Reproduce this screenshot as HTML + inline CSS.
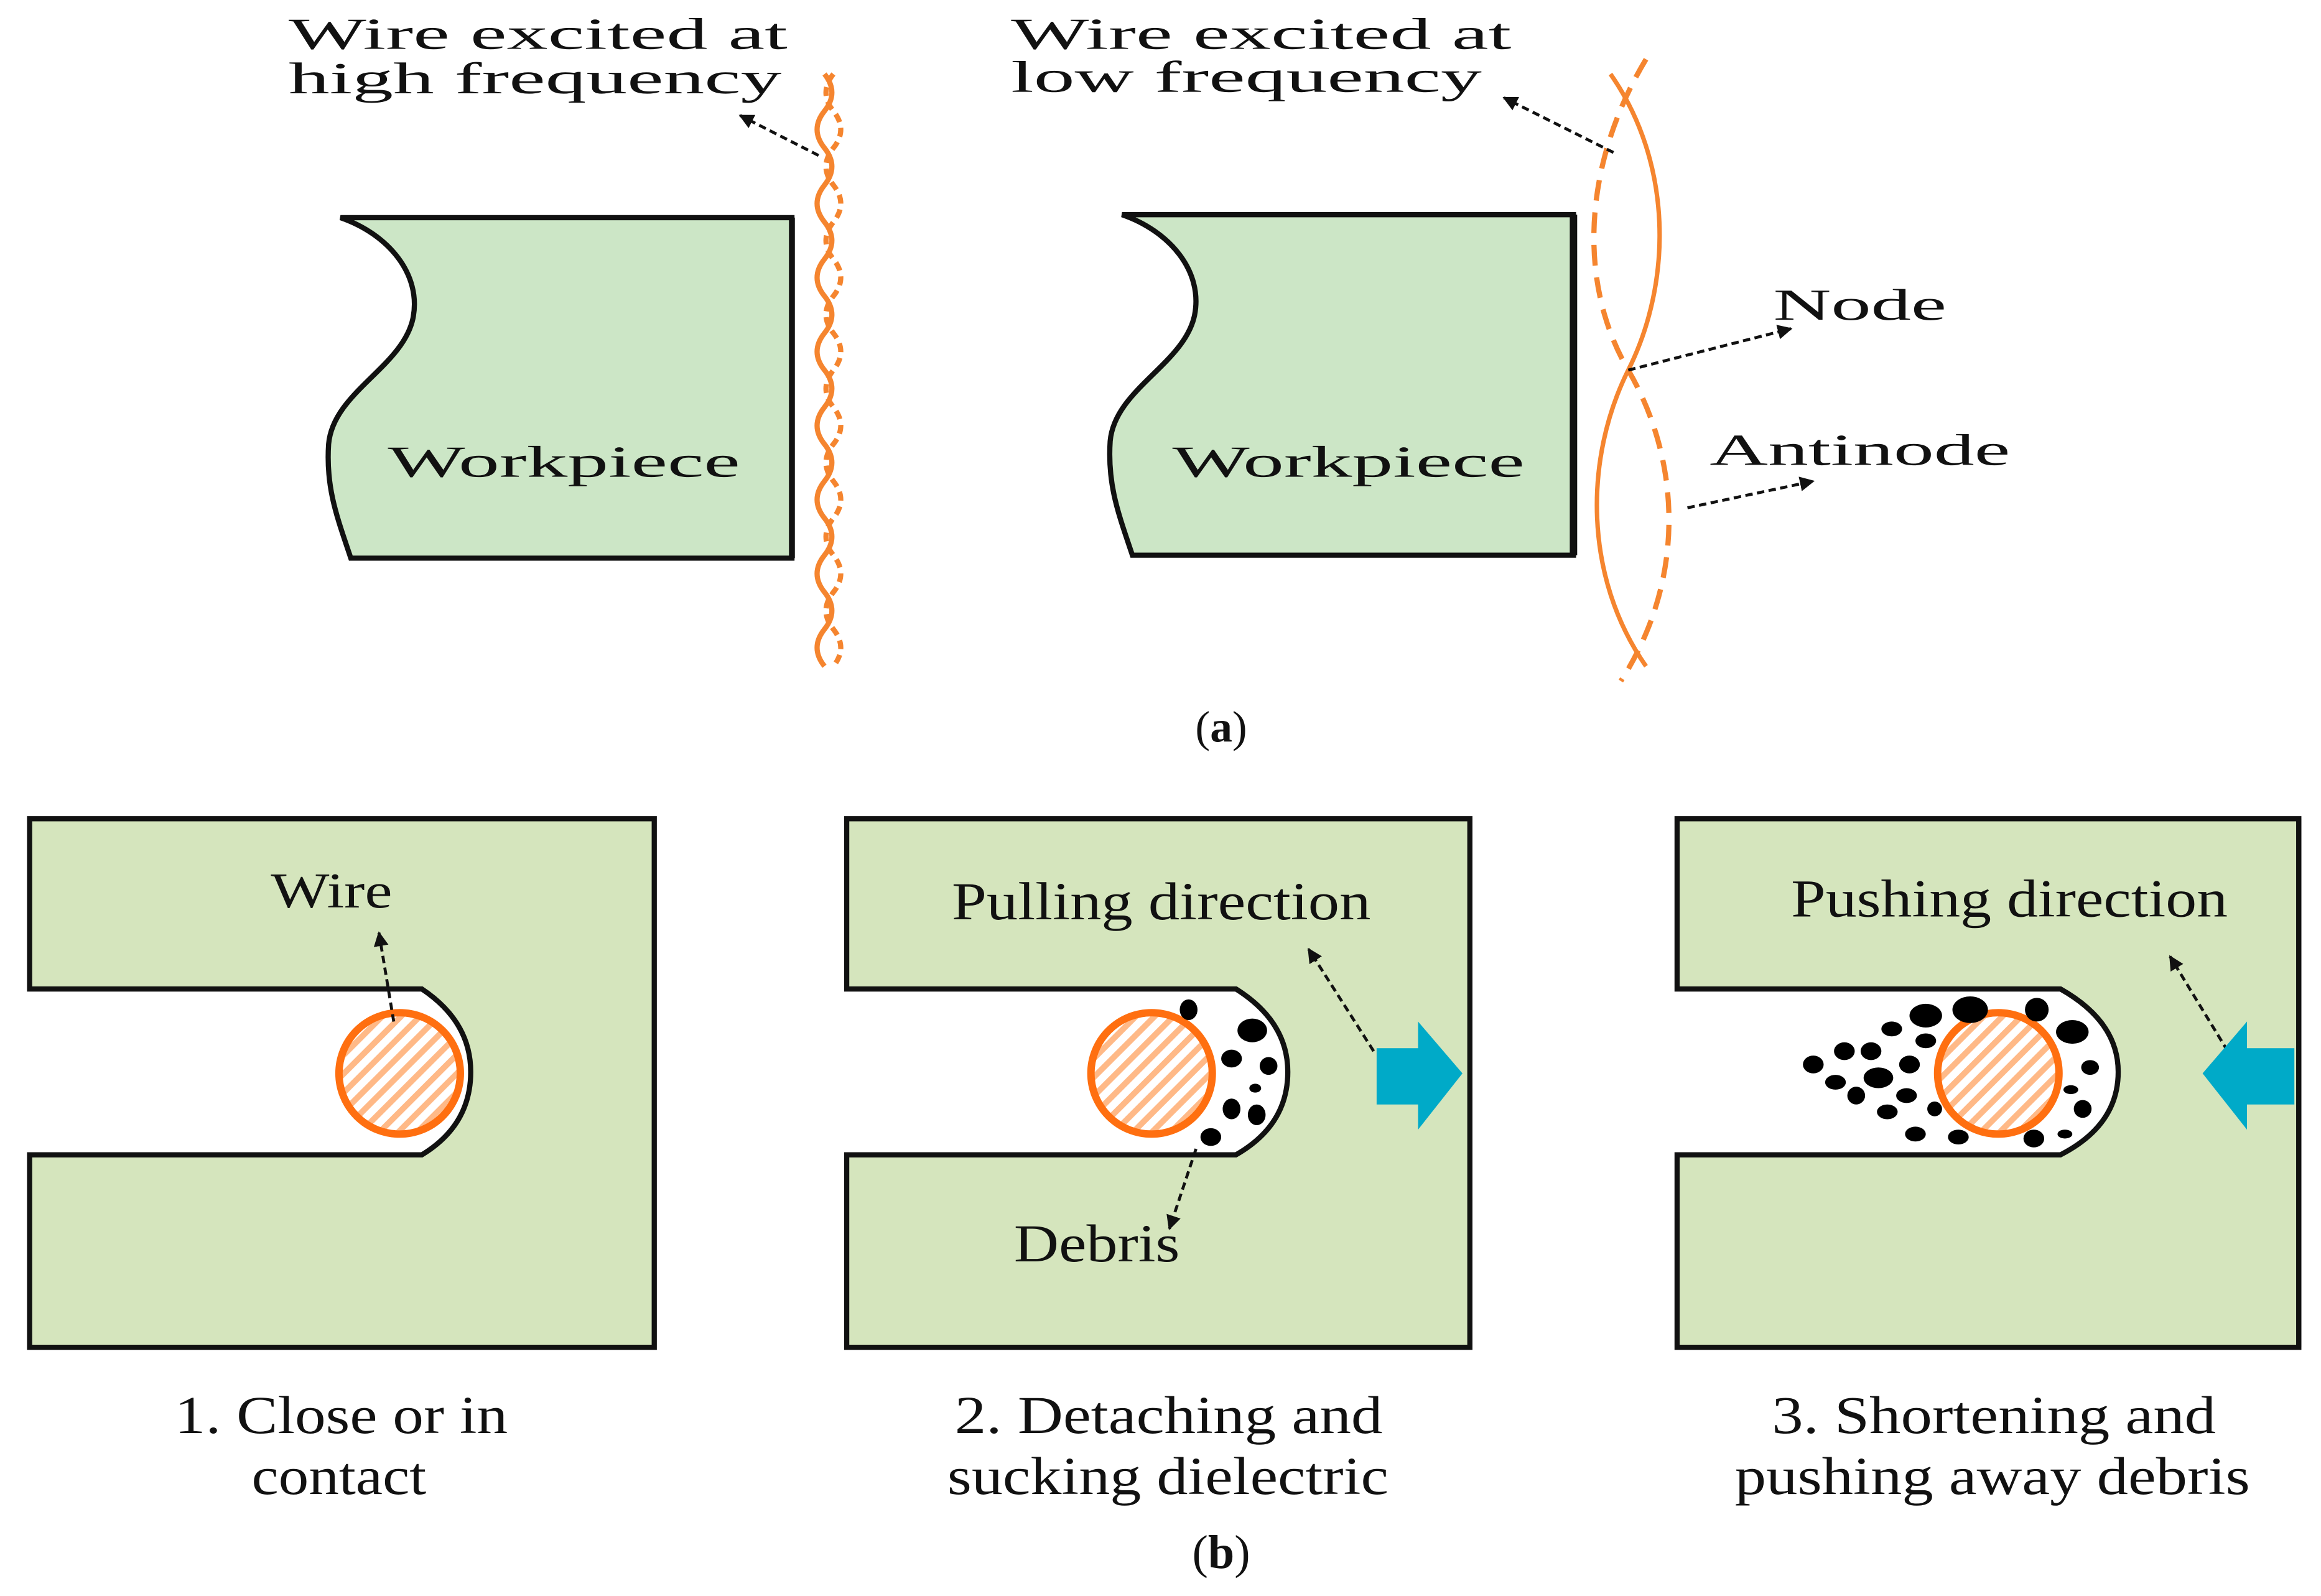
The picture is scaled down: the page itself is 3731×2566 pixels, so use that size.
<!DOCTYPE html>
<html><head><meta charset="utf-8"><style>
html,body{margin:0;padding:0;background:#fff;}
svg{display:block;}
text{font-family:"Liberation Serif",serif;fill:#111;}
</style></head><body>
<svg width="3731" height="2566" viewBox="0 0 1568 1078" preserveAspectRatio="none" xmlns="http://www.w3.org/2000/svg">
<defs>
<marker id="ah" viewBox="0 0 10 10" refX="9" refY="5" markerWidth="5" markerHeight="5" orient="auto"><path d="M0,0 L10,5 L0,10 z" fill="#111"/></marker>
<pattern id="hatch" width="9" height="9" patternUnits="userSpaceOnUse" patternTransform="rotate(45)"><rect width="9" height="9" fill="#fff"/><rect width="4" height="9" fill="#ffb987"/></pattern>
</defs>

<!-- (a) left -->
<path d="M230,147 H535 V377 H237 C228,350 220,330 222,300 C225,265 272,248 279,215 C285,185 262,158 230,147 Z" fill="#cce6c6" stroke="#111" stroke-width="3.5"/>
<line x1="535" y1="147" x2="535" y2="377" stroke="#111" stroke-width="4"/>
<path d="M557,50 q10,12.5 0,25 q-10,12.5 0,25 q10,12.5 0,25 q-10,12.5 0,25 q10,12.5 0,25 q-10,12.5 0,25 q10,12.5 0,25 q-10,12.5 0,25 q10,12.5 0,25 q-10,12.5 0,25 q10,12.5 0,25 q-10,12.5 0,25 q10,12.5 0,25 q-10,12.5 0,25 q10,12.5 0,25 q-10,12.5 0,25" fill="none" stroke="#f5852f" stroke-width="3.5"/>
<path d="M563,50 q-10,12.5 0,25 q10,12.5 0,25 q-10,12.5 0,25 q10,12.5 0,25 q-10,12.5 0,25 q10,12.5 0,25 q-10,12.5 0,25 q10,12.5 0,25 q-10,12.5 0,25 q10,12.5 0,25 q-10,12.5 0,25 q10,12.5 0,25 q-10,12.5 0,25 q10,12.5 0,25 q-10,12.5 0,25 q10,12.5 0,25" fill="none" stroke="#f5852f" stroke-width="3.5" stroke-dasharray="6,4"/>
<text x="195" y="33" font-size="30" textLength="337" lengthAdjust="spacingAndGlyphs">Wire excited at</text>
<text x="195" y="63" font-size="30" textLength="333" lengthAdjust="spacingAndGlyphs">high frequency</text>
<line x1="553" y1="105" x2="500" y2="78" stroke="#111" stroke-width="2" stroke-dasharray="5,3" marker-end="url(#ah)"/>
<text x="262" y="322" font-size="30" textLength="238" lengthAdjust="spacingAndGlyphs">Workpiece</text>

<!-- (a) right -->
<path d="M758,145 H1063 V375 H765 C756,348 748,328 750,298 C753,263 800,246 807,213 C813,183 790,156 758,145 Z" fill="#cce6c6" stroke="#111" stroke-width="3.5"/>
<line x1="1063" y1="145" x2="1063" y2="375" stroke="#111" stroke-width="5"/>
<path d="M1088,50 C1130,110 1130,190 1100,250 C1070,310 1070,390 1112,450" fill="none" stroke="#f5852f" stroke-width="3"/>
<path d="M1112,40 C1070,110 1065,190 1100,250 C1135,310 1140,390 1095,460" fill="none" stroke="#f5852f" stroke-width="3.5" stroke-dasharray="14,8"/>
<text x="683" y="33" font-size="30" textLength="338" lengthAdjust="spacingAndGlyphs">Wire excited at</text>
<text x="683" y="62" font-size="30" textLength="318" lengthAdjust="spacingAndGlyphs">low frequency</text>
<line x1="1090" y1="103" x2="1016" y2="66" stroke="#111" stroke-width="2" stroke-dasharray="5,3" marker-end="url(#ah)"/>
<text x="792" y="322" font-size="30" textLength="238" lengthAdjust="spacingAndGlyphs">Workpiece</text>
<text x="1198" y="216" font-size="30" textLength="117" lengthAdjust="spacingAndGlyphs">Node</text>
<line x1="1100" y1="250" x2="1210" y2="222" stroke="#111" stroke-width="2" stroke-dasharray="5,3" marker-end="url(#ah)"/>
<text x="1155" y="314" font-size="30" textLength="203" lengthAdjust="spacingAndGlyphs">Antinode</text>
<line x1="1140" y1="343" x2="1225" y2="325" stroke="#111" stroke-width="2" stroke-dasharray="5,3" marker-end="url(#ah)"/>
<text x="825" y="501" font-size="30" text-anchor="middle">(<tspan font-weight="bold">a</tspan>)</text>

<!-- (b) box 1 -->
<path d="M20,553 H442 V910 H20 V780 H285 Q318,760 318,724 Q318,690 285,668 H20 Z" fill="#d5e5bd" stroke="#111" stroke-width="3.5"/>
<circle cx="270" cy="725" r="41" fill="url(#hatch)" stroke="#ff6f10" stroke-width="5"/>
<text x="183" y="613" font-size="34" textLength="82" lengthAdjust="spacingAndGlyphs">Wire</text>
<line x1="266" y1="690" x2="256" y2="630" stroke="#111" stroke-width="2" stroke-dasharray="5,3" marker-end="url(#ah)"/>
<text x="118" y="968" font-size="36" textLength="225" lengthAdjust="spacingAndGlyphs">1. Close or in</text>
<text x="170" y="1009" font-size="36" textLength="118" lengthAdjust="spacingAndGlyphs">contact</text>

<!-- box 2 -->
<path d="M572,553 H993 V910 H572 V780 H835 Q870,760 870,724 Q870,690 835,668 H572 Z" fill="#d5e5bd" stroke="#111" stroke-width="3.5"/>
<circle cx="778" cy="725" r="41" fill="url(#hatch)" stroke="#ff6f10" stroke-width="5"/>
<g fill="#000">
<ellipse cx="803" cy="682" rx="6" ry="7"/><ellipse cx="846" cy="696" rx="10" ry="8"/>
<ellipse cx="832" cy="715" rx="7" ry="6"/><ellipse cx="857" cy="720" rx="6" ry="6"/>
<ellipse cx="848" cy="735" rx="4" ry="3"/><ellipse cx="832" cy="749" rx="6" ry="7"/>
<ellipse cx="849" cy="753" rx="6" ry="7"/><ellipse cx="818" cy="768" rx="7" ry="6"/>
</g>
<text x="643" y="621" font-size="36" textLength="283" lengthAdjust="spacingAndGlyphs">Pulling direction</text>
<line x1="928" y1="710" x2="884" y2="641" stroke="#111" stroke-width="2" stroke-dasharray="5,3" marker-end="url(#ah)"/>
<path d="M930,708 H958 V690 L988,725 L958,763 V746 H930 Z" fill="#00aac8"/>
<text x="685" y="852" font-size="36" textLength="112" lengthAdjust="spacingAndGlyphs">Debris</text>
<line x1="808" y1="776" x2="790" y2="830" stroke="#111" stroke-width="2" stroke-dasharray="5,3" marker-end="url(#ah)"/>
<text x="645" y="968" font-size="36" textLength="289" lengthAdjust="spacingAndGlyphs">2. Detaching and</text>
<text x="640" y="1009" font-size="36" textLength="298" lengthAdjust="spacingAndGlyphs">sucking dielectric</text>

<!-- box 3 -->
<path d="M1133,553 H1553 V910 H1133 V780 H1392 Q1431,760 1431,724 Q1431,690 1392,668 H1133 Z" fill="#d5e5bd" stroke="#111" stroke-width="3.5"/>
<circle cx="1350" cy="725" r="41" fill="url(#hatch)" stroke="#ff6f10" stroke-width="5"/>
<g fill="#000">
<ellipse cx="1301" cy="686" rx="11" ry="8"/><ellipse cx="1331" cy="682" rx="12" ry="9"/><ellipse cx="1376" cy="682" rx="8" ry="8"/>
<ellipse cx="1400" cy="697" rx="11" ry="8"/><ellipse cx="1278" cy="695" rx="7" ry="5"/><ellipse cx="1301" cy="703" rx="7" ry="5"/>
<ellipse cx="1246" cy="710" rx="7" ry="6"/><ellipse cx="1264" cy="710" rx="7" ry="6"/><ellipse cx="1225" cy="719" rx="7" ry="6"/>
<ellipse cx="1290" cy="719" rx="7" ry="6"/><ellipse cx="1412" cy="721" rx="6" ry="5"/><ellipse cx="1240" cy="731" rx="7" ry="5"/>
<ellipse cx="1269" cy="728" rx="10" ry="7"/><ellipse cx="1254" cy="740" rx="6" ry="6"/><ellipse cx="1288" cy="740" rx="7" ry="5"/>
<ellipse cx="1307" cy="749" rx="5" ry="5"/><ellipse cx="1275" cy="751" rx="7" ry="5"/><ellipse cx="1399" cy="736" rx="5" ry="3"/>
<ellipse cx="1407" cy="749" rx="6" ry="6"/><ellipse cx="1294" cy="766" rx="7" ry="5"/><ellipse cx="1323" cy="768" rx="7" ry="5"/>
<ellipse cx="1374" cy="769" rx="7" ry="6"/><ellipse cx="1395" cy="766" rx="5" ry="3"/>
</g>
<text x="1210" y="619" font-size="36" textLength="295" lengthAdjust="spacingAndGlyphs">Pushing direction</text>
<line x1="1505" y1="710" x2="1466" y2="646" stroke="#111" stroke-width="2" stroke-dasharray="5,3" marker-end="url(#ah)"/>
<path d="M1550,708 H1518 V690 L1488,725 L1518,763 V746 H1550 Z" fill="#00aac8"/>
<line x1="1553" y1="553" x2="1553" y2="910" stroke="#111" stroke-width="3.5"/>
<text x="1197" y="968" font-size="36" textLength="300" lengthAdjust="spacingAndGlyphs">3. Shortening and</text>
<text x="1172" y="1009" font-size="36" textLength="348" lengthAdjust="spacingAndGlyphs">pushing away debris</text>

<text x="825" y="1059" font-size="32" text-anchor="middle">(<tspan font-weight="bold">b</tspan>)</text>
</svg>
</body></html>
